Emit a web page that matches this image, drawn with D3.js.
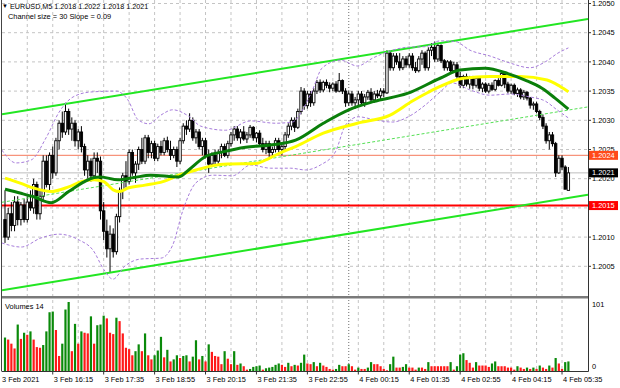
<!DOCTYPE html>
<html>
<head>
<meta charset="utf-8">
<script src="https://d3js.org/d3.v7.min.js"></script>
<style>
  body { margin: 0; background: #fff; }
  svg { display: block; font-family: "Liberation Sans", Arial, sans-serif; }
</style>
</head>
<body>
<div id="chart"></div>
<script>
// prices are kept in pips above 1.2000, bars are M5 from 3 Feb 15:00
const BASE = 1.2

const opens = [13,10,14,12,16,13,15.5,13,16,15,19,14,17,23,19,24,21,26.5,29.5,28,31.5,28.5,29.5,26.5,28,25.5,21.5,23,20.5,23.5,
  23,14.5,11,8,10.5,7.5,13.5,18,20.5,19.5,24.5,21,22.5,25,23,27,24.5,26,23.5,25.5,24.5,26.5,25,24,25,23,26.5,29,28.5,30,
  27,28,25.5,26.5,24,22.5,24,23,24.5,25.5,24,26,27.5,28.5,27,28,26.8,27.5,28.8,27,27.8,26,25,26,24.5,25,26.5,25,25.5,27.5,
  29,30,28.8,31.5,35,32.5,34.5,33,35,36.5,35.2,36.5,36,35.5,36.2,35,36.8,35,33,34.5,33,33.5,34.5,33,34,34.8,33.5,34.5,34.2,35,
  34.7,41.5,39,41,40,39,40.5,39.5,41,39,38.5,40.5,41.5,39,42,42.5,40.5,42.8,40.2,39,40,38.5,39.5,37.5,36,37.5,36.2,37.2,36,37.2,
  35.5,36.2,35,36,35.3,36.8,36,38,36.2,35,36,34.6,35.2,34,34.8,33.8,32.6,32.8,31.5,30.5,29,26.5,27.5,26,21,23.5,22,18]
const highs = [18,15,16,17,17,16,16.5,17,18,20,19.5,18,24,24,24.5,25.5,27,30,31.5,33,32,30.5,30,28.5,29,26,24,23.5,24.5,24.5,
  23.8,16,13,12,11.5,14,18.5,21,23,25,25,23,25.5,27,27.5,27.5,26.5,26.5,26,26.5,27,27.2,26.5,25.5,25.5,27,29.5,30,31.2,30.5,
  28.5,28.5,27,27,25,24.5,25,25,26,26,26.5,28,29,29,28.5,29,28,29.2,29,28,28.3,27,26.5,26.5,25.5,27,27,26,28,29.5,
  30.5,30.5,32,35.7,35.5,35,35,35.5,36.9,37,36.8,37,36.5,36.5,36.7,38.1,37,35.5,35,35,34,35,35,34.5,35.2,35.5,35,35.2,35.5,35.5,
  42,42,41.5,41.5,41.5,41,41,41.5,41.5,40,41,42,41.8,42.5,43.2,43.5,43.2,43,40.5,40.3,40.3,40,40,38.3,37.8,38,37.6,37.6,37.5,37.4,
  36.5,36.5,36.4,36.5,37,37.2,38.6,38.4,36.6,36.3,36.3,35.6,35.5,35.2,35,34,33.2,33.2,31.8,31,29.5,28,28,26.3,24,24,22.3,22]
const lows = [9,9.5,11,11,12,12,12.5,12.5,14.5,14,13,13,16,18.5,18,20,20.5,25,27,27.5,27.5,26.5,25.5,25,24.5,20.5,20,19.5,20,21,
  13,9.5,6.5,3.9,6.5,7,12.5,16.5,18.5,19,20.5,19.3,21.5,22.5,22.5,23.5,23.5,23,23,24,24,24.5,23.2,23.5,22,22.5,26,27.5,28,26.5,
  26,25,24,23.5,21,22,22.5,22.5,23.5,23.7,23.5,25.5,26.5,26.5,26,26.5,26.1,27,26.5,26.2,25.5,24.5,24.2,23.7,23.7,24.5,24.5,24,25,27,
  28.3,28,28.5,31,31.8,32,32.3,32.5,34.5,34.7,34.8,35.5,34.8,35,34.7,34.8,34.5,32.3,32.5,32.5,32,32.5,32.5,32.3,33.5,33,33,33.8,33.5,34,
  34.5,38.5,38.5,39.5,38.5,38.6,39,39,38.5,38.1,38.2,39.5,38.5,38.5,41,40,40,39.8,38.5,38.5,38.1,38.2,37,35.5,35.5,35.8,35.4,35.3,35.6,35,
  34.8,34.7,34.6,35,35,35.8,35.8,35.5,34.6,34.5,34.3,34,33.6,33.5,33.4,32,31.8,31.2,30,28.5,26,25,25.5,20.3,20.8,21.5,18.2,18]
const closes = [10,14,12,16,13,15.5,13,16,15,19,14,17,23,19,24,21,26.5,29.5,28,31.5,28.5,29.5,26.5,28,25.5,21.5,23,20.5,23.5,23,
  14.5,11,8,10.5,7.5,13.5,18,20.5,19.5,24.5,21,22.5,25,23,27,24.5,26,23.5,25.5,24.5,26.5,25,24,25,23,26.5,29,28.5,30,27,
  28,25.5,26.5,24,22.5,24,23,24.5,25.5,24,26,27.5,28.5,27,28,26.8,27.5,28.8,27,27.8,26,25,26,24.5,25,26.5,25,25.5,27.5,29,
  30,28.8,31.5,35,32.5,34.5,33,35,36.5,35.2,36.5,36,35.5,36.2,35,36.8,35,33,34.5,33,33.5,34.5,33,34,34.8,33.5,34.5,34.2,35,34.7,
  41.5,39,41,40,39,40.5,39.5,41,39,38.5,40.5,41.5,39,42,42.5,40.5,42.8,40.2,39,40,38.5,39.5,37.5,36,37.5,36.2,37.2,36,37.2,35.5,
  36.2,35,36,35.3,36.8,36,38,36.2,35,36,34.6,35.2,34,34.8,33.8,32.6,32.8,31.5,30.5,29,26.5,27.5,26,21,23.5,22,18.2,21]

const volumes = [49,46,40,33,68,47,56,53,58,46,35,34,38,58,86,87,60,22,40,90,
  101,29,69,40,58,56,55,80,40,67,68,81,77,56,54,78,73,55,34,32,
  23,29,39,29,55,23,17,23,30,50,20,31,14,17,23,19,22,23,14,21,
  45,17,22,14,39,28,22,21,10,29,18,10,29,9,11,7,2,3,6,7,
  8,2,4,5,6,9,11,9,6,12,7,9,8,12,24,11,10,
  13,7,12,8,6,3,2,3,9,7,7,10,7,2,5,3,3,5,13,10,
  10,7,3,1,10,21,5,5,6,10,5,5,2,5,5,3,13,7,7,7,
  7,7,7,13,2,7,24,26,16,12,5,13,8,8,8,6,11,14,7,7,
  7,5,5,2,7,5,3,5,3,5,3,8,5,3,8,5,19,11,3,13,14]

// [bar, pips]
const maYellow = [[0,20.1],[5,19.2],[9,18.4],[14.5,17.8],[20,18.6],[24,19.5],[28,19.8],[31,19.5],[34,18.1],[36,17.8],
  [38.6,18.4],[44,18.9],[49.6,19.5],[54.6,20.6],[60,21.5],[65,22.2],[70,22.5],[78.7,22.6],[83,23.5],[86,24.3],
  [91.3,25.5],[100,27.8],[110.7,29.5],[121,30.9],[128,33.3],[133,34.8],[136.7,35.8],[144,37.2],[152.4,37.5],
  [161.8,37.5],[170.3,36.9],[174.4,35.8],[177,34.9]]
const maGreen = [[0,18.2],[5,17.5],[9,16.9],[14.5,15.9],[20,17.8],[25,19.5],[28,20.2],[30,20.3],[35.5,19.8],
  [40.5,20.2],[45.8,20.6],[54.6,20.3],[57.7,21.5],[63,23.8],[68.4,24.6],[75.6,25.4],[84,25.8],[91.3,26.6],
  [100,29.5],[108,31.8],[115.7,33.2],[126.4,34.6],[136.7,37.2],[143,38.6],[150.8,38.9],[158,38.0],[163.4,36.9],
  [168.7,35.5],[172.8,33.8],[177,31.9]]
const bandUpper = [[-1,24.9],[3.5,22.7],[8.2,23.2],[12.9,27],[17,31.4],[21.4,34],[27,34.85],[34.9,35],[38.6,33.5],
  [41.8,30.1],[45.2,29.4],[49,30.9],[52.7,31.8],[57.7,30.7],[61.5,29],[69.3,28.3],[77.2,29.9],[85,29.5],[90.3,29.7],
  [93.5,31.8],[96.6,35.2],[99.7,39],[105.4,40.3],[110.7,39.3],[115.7,40.7],[121.7,42],[127.3,42.55],[132,42.6],
  [136.7,43.6],[141.4,43.5],[146.1,42],[152.4,41],[158.7,39.8],[164.9,39],[169.7,40],[173.7,41.5],[177,42.4]]
const bandLower = [[-1,9],[5.1,8.3],[11.3,9.85],[17,10.5],[23.3,9.5],[27.6,7.8],[31.1,4.4],[33.9,2.8],[37.7,5.05],
  [42.7,6.25],[49,6.4],[52.7,8.65],[55.9,14.6],[60,19.3],[65.3,20.6],[71.5,20.5],[77.2,22.35],[83.4,21.8],[89.7,21.8],
  [94.4,21.5],[99.1,22.35],[103.8,24.6],[107,29.2],[111,30.6],[116.4,30.05],[121.7,29.7],[126.7,30.6],[132,32.6],
  [136.7,34.85],[140.5,36.4],[146.1,35.2],[152.4,34.3],[158.7,34.5],[164.9,34],[169.7,33.3],[173.4,31.8],[177,30.4]]

// regression channel, size 30, slope 0.09
const channelUpper = [[0,31.1],[177,46.8]]
const channelMiddle = [[0,16.05],[177,31.75]]
const channelLower = [[0,1.0],[177,16.7]]

const levelOrange = 24
const levelRed = 15.4

const priceTicks = [5,10,15,20,25,30,35,40,45,50]
const volumeTicks = [0,101]
const daySeparatorBar = 108
const timeLabelBars = [0,15,31,47,63,79,95,111,127,143,159,175]
const timeLabels = ['3 Feb 2021','3 Feb 16:15','3 Feb 17:35','3 Feb 18:55','3 Feb 20:15','3 Feb 21:35',
  '3 Feb 22:55','4 Feb 00:15','4 Feb 01:35','4 Feb 02:55','4 Feb 04:15','4 Feb 05:35']

const width = 620
const height = 388
const plot = { left: 2, right: 588, top: 0, mainBottom: 295.5, volTop: 299, volBottom: 371 }
const fmt = p => (BASE + p / 10000).toFixed(4)

const x = d3.scaleLinear().domain([0, 177]).range([5, 5 + 177 * 3.183])
const y = d3.scaleLinear().domain([0, 50]).range([295.5, 3.5])
const yv = d3.scaleLinear().domain([0, 101]).range([plot.volBottom, 302])

const svg = d3.select('#chart').append('svg')
  .attr('width', width).attr('height', height)

svg.append('rect').attr('width', width).attr('height', height).attr('fill', '#fff')

const defs = svg.append('defs')
defs.append('clipPath').attr('id', 'clip-main').append('rect')
  .attr('x', plot.left).attr('y', plot.top)
  .attr('width', plot.right - plot.left).attr('height', plot.mainBottom - plot.top)

// grid
const gridV = []
for (let b = 175; b > 0; b -= 8) gridV.push(b)

const grid = svg.append('g').attr('class', 'grid')
grid.selectAll('.gv').data(gridV).enter().append('line')
  .attr('x1', d => x(d)).attr('x2', d => x(d))
  .attr('y1', plot.top).attr('y2', plot.volBottom)
  .attr('stroke', '#c4c4c4').attr('stroke-dasharray', '3,3')
grid.selectAll('.gh').data(priceTicks).enter().append('line')
  .attr('x1', plot.left).attr('x2', plot.right)
  .attr('y1', d => y(d)).attr('y2', d => y(d))
  .attr('stroke', '#c4c4c4').attr('stroke-dasharray', '3,3')
grid.append('line')
  .attr('x1', x(daySeparatorBar)).attr('x2', x(daySeparatorBar))
  .attr('y1', plot.top).attr('y2', plot.volBottom)
  .attr('stroke', '#6e6e6e').attr('stroke-dasharray', '1,2')

const main = svg.append('g').attr('clip-path', 'url(#clip-main)')

// horizontal levels
main.append('line').attr('x1', plot.left).attr('x2', plot.right)
  .attr('y1', y(21)).attr('y2', y(21)).attr('stroke', '#bdbdbd').attr('stroke-width', 1)
main.append('line').attr('x1', plot.left).attr('x2', plot.right)
  .attr('y1', y(levelOrange)).attr('y2', y(levelOrange)).attr('stroke', '#f7937b').attr('stroke-width', 1.4)
main.append('line').attr('x1', plot.left).attr('x2', plot.right)
  .attr('y1', y(levelRed)).attr('y2', y(levelRed)).attr('stroke', '#ff0000').attr('stroke-width', 2)

// candles
const bars = d3.range(closes.length)
const candles = main.append('g').attr('class', 'candles')
candles.selectAll('.wick').data(bars).enter().append('line')
  .attr('x1', i => x(i)).attr('x2', i => x(i))
  .attr('y1', i => y(highs[i])).attr('y2', i => y(lows[i]))
  .attr('stroke', '#000').attr('stroke-width', 1)
candles.selectAll('.body').data(bars).enter().append('rect')
  .attr('x', i => x(i) - 1.2).attr('width', 2.4)
  .attr('y', i => y(Math.max(opens[i], closes[i])))
  .attr('height', i => Math.max(0.8, Math.abs(y(opens[i]) - y(closes[i]))))
  .attr('fill', i => (closes[i] >= opens[i] ? '#fff' : '#000'))
  .attr('stroke', '#000').attr('stroke-width', 0.9)

// channel
function channel(pts) {
  const f = d3.scaleLinear().domain([pts[0][0], pts[1][0]]).range([pts[0][1], pts[1][1]])
  const b0 = x.invert(plot.left)
  const b1 = x.invert(plot.right)
  return [[b0, f(b0)], [b1, f(b1)]]
}
const straight = d3.line().x(d => x(d[0])).y(d => y(d[1]))
main.append('path').attr('d', straight(channel(channelUpper)))
  .attr('fill', 'none').attr('stroke', '#22e622').attr('stroke-width', 2)
main.append('path').attr('d', straight(channel(channelLower)))
  .attr('fill', 'none').attr('stroke', '#22e622').attr('stroke-width', 2)
main.append('path').attr('d', straight(channel(channelMiddle)))
  .attr('fill', 'none').attr('stroke', '#55e055').attr('stroke-width', 1).attr('stroke-dasharray', '3,2')

// bands and averages
const curve = d3.line().x(d => x(d[0])).y(d => y(d[1])).curve(d3.curveMonotoneX)
;[bandUpper, bandLower].forEach(b => {
  main.append('path').attr('d', curve(b))
    .attr('fill', 'none').attr('stroke', '#a77ddb').attr('stroke-width', 1).attr('stroke-dasharray', '3,2')
})
main.append('path').attr('d', curve(maYellow))
  .attr('fill', 'none').attr('stroke', '#ffff00').attr('stroke-width', 3)
main.append('path').attr('d', curve(maGreen))
  .attr('fill', 'none').attr('stroke', '#0a7f0a').attr('stroke-width', 3)

// volumes
svg.append('g').selectAll('rect').data(bars).enter().append('rect')
  .attr('x', i => x(i) - 1.1).attr('width', 2.2)
  .attr('y', i => yv(volumes[i]))
  .attr('height', i => plot.volBottom - yv(volumes[i]))
  .attr('fill', i => (i === 0 || volumes[i] > volumes[i - 1] ? '#0a8a0a' : '#ff1a1a'))

// frame
svg.append('rect').attr('x', plot.left).attr('y', 296).attr('width', plot.right - plot.left + 1)
  .attr('height', 2.5).attr('fill', '#7a7a7a')
svg.append('line').attr('x1', plot.left).attr('x2', plot.right + 0.5)
  .attr('y1', plot.volBottom + 0.5).attr('y2', plot.volBottom + 0.5).attr('stroke', '#333')
svg.append('line').attr('x1', plot.right + 0.5).attr('x2', plot.right + 0.5)
  .attr('y1', 0).attr('y2', plot.volBottom + 0.5).attr('stroke', '#333')
svg.append('line').attr('x1', 1.5).attr('x2', 1.5)
  .attr('y1', 0).attr('y2', plot.volBottom + 0.5).attr('stroke', '#444')

// price axis (a label fully under a level box is not drawn, as in the terminal)
const boxed = [levelOrange, levelRed, closes[closes.length - 1]]
const visibleTicks = priceTicks.filter(t => boxed.every(b => Math.abs(y(t) - y(b)) > 3))
const axis = svg.append('g').attr('font-size', 7.4).attr('fill', '#000')
axis.selectAll('.pt').data(visibleTicks).enter().append('text')
  .attr('x', 592).attr('y', d => y(d) + 2.6).text(d => fmt(d))
axis.selectAll('.ptk').data(priceTicks).enter().append('line')
  .attr('x1', plot.right).attr('x2', plot.right + 3)
  .attr('y1', d => y(d)).attr('y2', d => y(d)).attr('stroke', '#333')

function priceBox(p, fill) {
  const g = svg.append('g')
  g.append('rect').attr('x', 589).attr('y', y(p) - 4.5).attr('width', 29).attr('height', 9).attr('fill', fill)
  g.append('text').attr('x', 592).attr('y', y(p) + 2.6).attr('font-size', 7.4).attr('fill', '#fff').text(fmt(p))
}
priceBox(levelOrange, '#ff4a1a')
priceBox(levelRed, '#ff0000')
priceBox(closes[closes.length - 1], '#000')

// volume axis
axis.append('text').attr('x', 592).attr('y', yv(101) + 4.5).text(volumeTicks[1])
axis.append('text').attr('x', 592).attr('y', plot.volBottom - 2.5).text(volumeTicks[0])

// time axis
const tAxis = svg.append('g').attr('font-size', 7.4).attr('fill', '#000')
tAxis.selectAll('text').data(timeLabelBars).enter().append('text')
  .attr('x', (d, i) => (i === 0 ? 2 : x(d) + 1))
  .attr('y', 382)
  .text((d, i) => timeLabels[i])
tAxis.selectAll('line').data(timeLabelBars.slice(1)).enter().append('line')
  .attr('x1', d => x(d)).attr('x2', d => x(d))
  .attr('y1', plot.volBottom).attr('y2', plot.volBottom + 3.5).attr('stroke', '#333')

// header
const last = closes.length - 1
const head = svg.append('g').attr('fill', '#000')
head.append('text').attr('x', 2).attr('y', 8).attr('font-size', 6).text('\u25BC')
head.append('text').attr('x', 10).attr('y', 8.5).attr('font-size', 7.2)
  .text('EURUSD,M5  ' + [opens[last], highs[last], lows[last], closes[last]].map(fmt).join(' '))
head.append('text').attr('x', 8).attr('y', 19).attr('font-size', 7.4)
  .text('Channel size = 30 Slope = 0.09')
head.append('text').attr('x', 5).attr('y', 308.5).attr('font-size', 7.4).text('Volumes 14')
</script>
</body>
</html>
